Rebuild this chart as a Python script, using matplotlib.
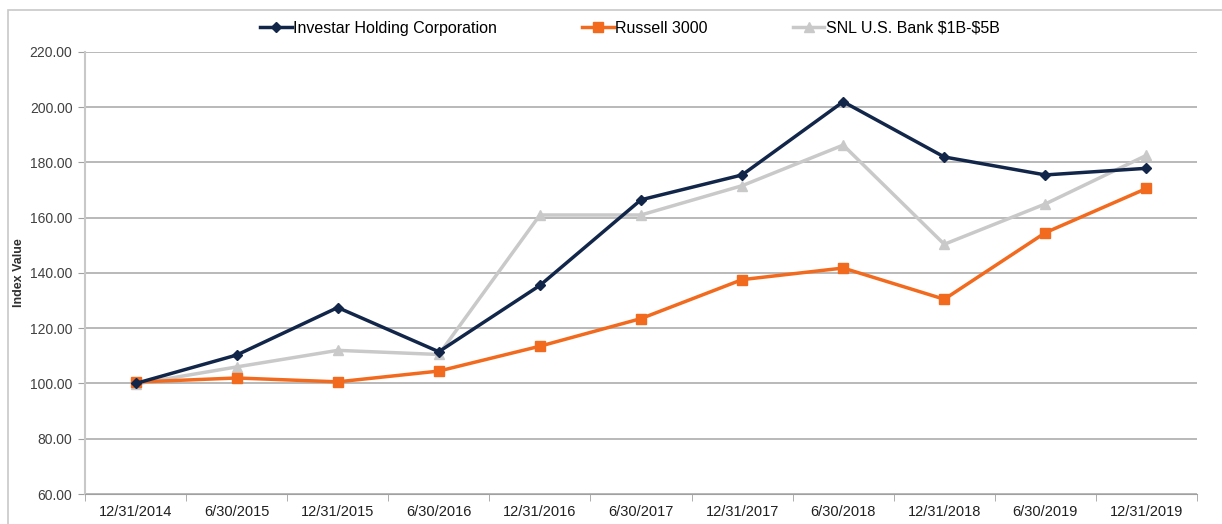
import numpy as np
import matplotlib
matplotlib.use('Agg')
import matplotlib.pyplot as plt
from matplotlib.patches import Rectangle

dates = ['12/31/2014', '6/30/2015', '12/31/2015', '6/30/2016', '12/31/2016', '6/30/2017',
         '12/31/2017', '6/30/2018', '12/31/2018', '6/30/2019', '12/31/2019']
investar = [100.0, 110.3, 127.5, 111.5, 135.5, 166.5, 175.5, 202.0, 182.0, 175.5, 177.9]
russell = [100.5, 102.0, 100.6, 104.5, 113.5, 123.5, 137.6, 141.8, 130.5, 154.6, 170.6]
snl = [99.8, 106.0, 112.0, 110.5, 161.0, 161.0, 171.6, 186.3, 150.4, 165.0, 182.6]
yticks = [60, 80, 100, 120, 140, 160, 180, 200, 220]


def main():
    plt.rcParams['font.family'] = ['Liberation Sans', 'DejaVu Sans']
    fig = plt.figure(figsize=(12.22, 5.24), dpi=100)
    ax = fig.add_axes([85 / 1222, 30 / 524, 1112 / 1222, 442 / 524])

    # outer chart border
    fig.patches.append(Rectangle((8 / 1222, -0.05), 1.2, 1.05 - 10 / 524,
                                 transform=fig.transFigure, fill=False,
                                 edgecolor='#c8c8c8', linewidth=1.2))

    x = np.arange(len(dates))
    ax.plot(x, snl, '-^', color='#c9c9c9', lw=2.5, ms=7, label=r'SNL U.S. Bank \$1B-\$5B', zorder=3)
    ax.plot(x, russell, '-s', color='#f26a1e', lw=2.5, ms=6.5, label='Russell 3000', zorder=4)
    ax.plot(x, investar, '-D', color='#12264a', lw=2.5, ms=5.5, label='Investar Holding Corporation', zorder=5)

    ax.set_xlim(-0.5, len(dates) - 0.5)
    ax.set_ylim(60, 220)
    ax.set_yticks(yticks)
    ax.set_yticklabels(['%.2f' % v for v in yticks], fontsize=10, color='#404040')
    ax.set_xticks(x)
    ax.set_xticklabels(dates, fontsize=10.5, color='#202020')
    ax.set_xticks(np.arange(-0.5, len(dates)), minor=True)
    ax.tick_params(axis='x', which='major', length=0, pad=8)
    ax.tick_params(axis='x', which='minor', length=5, color='#a0a0a0', direction='out')
    ax.tick_params(axis='y', length=5, color='#a0a0a0', pad=4)

    ax.grid(True, axis='y', color='#a6a6a6', lw=1.1)
    ax.set_axisbelow(True)
    for s in ['top', 'right']:
        ax.spines[s].set_visible(False)
    ax.spines['left'].set_color('#c8c8c8')
    ax.spines['left'].set_linewidth(1.5)
    ax.spines['bottom'].set_color('#a0a0a0')

    ax.set_ylabel('Index Value', fontsize=9, fontweight='bold', color='#303030')
    ax.yaxis.set_label_coords(-0.054, 0.5)

    h, l = ax.get_legend_handles_labels()
    ax.legend(h[::-1], l[::-1], loc='lower center', bbox_to_anchor=(0.49, 1.015), ncol=3,
              frameon=False, fontsize=11.5, columnspacing=5.3, handlelength=2.0,
              handletextpad=0.1, borderaxespad=0.2)

    fig.savefig('out.png', dpi=100)


if __name__ == "__main__":
    main()
